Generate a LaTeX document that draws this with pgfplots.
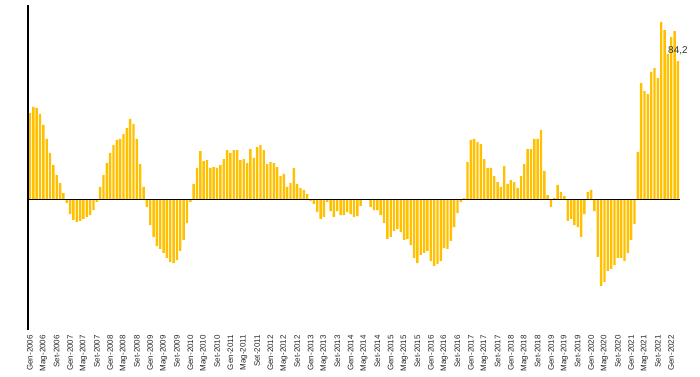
\documentclass[border=0pt]{standalone}
\usepackage{pgfplots}
\pgfplotsset{compat=1.18}
\usepackage{fontspec}
\setmainfont{Liberation Sans}
\definecolor{barcol}{RGB}{255,192,0}
\begin{document}
\begin{tikzpicture}
\begin{axis}[
 scale only axis, width=656.6bp, height=325bp,
 xmin=-0.6, xmax=196, ymin=-78.8, ymax=118.2,
 axis line style={draw=none},
 ytick=\empty,
 xtick={0,4,...,192},
 xticklabels={Gen-2006,Mag-2006,Set-2006,Gen-2007,Mag-2007,Set-2007,Gen-2008,Mag-2008,Set-2008,Gen-2009,Mag-2009,Set-2009,Gen-2010,Mag-2010,Set-2010,Gen-2011,Mag-2011,Set-2011,Gen-2012,Mag-2012,Set-2012,Gen-2013,Mag-2013,Set-2013,Gen-2014,Mag-2014,Set-2014,Gen-2015,Mag-2015,Set-2015,Gen-2016,Mag-2016,Set-2016,Gen-2017,Mag-2017,Set-2017,Gen-2018,Mag-2018,Set-2018,Gen-2019,Mag-2019,Set-2019,Gen-2020,Mag-2020,Set-2020,Gen-2021,Mag-2021,Set-2021,Gen-2022},
 major tick length=0pt,
 xticklabel style={rotate=90, anchor=east, inner sep=0pt, font=\fontsize{8}{9}\selectfont, text=black!85},
 xticklabel shift=5bp,
 clip=false,
]
\addplot[ybar, bar width=2.4bp, fill=barcol, draw=none] coordinates {
(0,52.7)(1,56.4)(2,55.8)(3,52.1)(4,45.5)(5,37.0)(6,28.5)(7,21.2)(8,15.2)(9,10.3)
(10,4.2)(11,-1.8)(12,-8.5)(13,-12.1)(14,-13.3)(15,-12.7)(16,-11.5)(17,-10.3)(18,-9.1)(19,-6.1)
(20,-1.2)(21,7.9)(22,15.2)(23,22.4)(24,28.5)(25,33.3)(26,36.4)(27,37.0)(28,40.0)(29,43.6)
(30,49.1)(31,46.1)(32,37.0)(33,21.8)(34,7.9)(35,-4.2)(36,-15.2)(37,-22.4)(38,-27.9)(39,-29.7)
(40,-32.1)(41,-35.1)(42,-37.6)(43,-38.2)(44,-36.4)(45,-30.9)(46,-24.2)(47,-13.9)(48,-1.2)(49,9.7)
(50,19.4)(51,29.7)(52,23.6)(53,24.2)(54,19.4)(55,20.0)(56,19.4)(57,21.2)(58,24.8)(59,30.3)
(60,28.5)(61,30.3)(62,30.3)(63,24.2)(64,24.8)(65,22.4)(66,30.9)(67,25.5)(68,32.1)(69,33.3)
(70,30.3)(71,21.8)(72,23.0)(73,22.4)(74,20.0)(75,14.5)(76,15.8)(77,7.9)(78,10.3)(79,19.4)
(80,9.7)(81,7.3)(82,6.1)(83,3.6)(84,-0.6)(85,-2.4)(86,-7.3)(87,-11.5)(88,-10.3)(89,-1.2)
(90,-6.7)(91,-10.3)(92,-6.7)(93,-9.1)(94,-9.1)(95,-7.3)(96,-8.5)(97,-10.3)(98,-9.7)(99,-3.6)
(100,0.0)(101,0.6)(102,-4.2)(103,-6.1)(104,-6.1)(105,-9.1)(106,-13.9)(107,-23.6)(108,-22.4)(109,-18.8)
(110,-17.6)(111,-19.4)(112,-24.2)(113,-23.6)(114,-27.3)(115,-35.1)(116,-38.2)(117,-33.3)(118,-32.1)(119,-30.9)
(120,-37.0)(121,-40.0)(122,-38.8)(123,-37.0)(124,-29.1)(125,-29.7)(126,-24.8)(127,-16.4)(128,-7.9)(129,-1.2)
(130,1.2)(131,23.0)(132,36.4)(133,37.0)(134,35.1)(135,33.9)(136,24.8)(137,19.4)(138,19.4)(139,14.5)
(140,10.9)(141,7.9)(142,20.6)(143,9.7)(144,12.1)(145,10.9)(146,7.3)(147,14.5)(148,21.8)(149,30.9)
(150,30.9)(151,37.0)(152,37.0)(153,42.4)(154,17.6)(155,3.0)(156,-4.2)(157,1.2)(158,9.1)(159,4.8)
(160,2.4)(161,-12.7)(162,-11.5)(163,-15.2)(164,-16.4)(165,-22.4)(166,-8.5)(167,4.8)(168,6.1)(169,-6.7)
(170,-34.5)(171,-52.1)(172,-49.7)(173,-43.0)(174,-41.8)(175,-39.4)(176,-35.1)(177,-35.1)(178,-37.0)(179,-32.1)
(180,-24.2)(181,-14.5)(182,29.1)(183,70.9)(184,66.1)(185,64.2)(186,77.6)(187,80.0)(188,73.9)(189,107.9)
(190,103.0)(191,88.5)(192,98.8)(193,102.4)(194,84.2)
};
\draw[black, line width=1bp] (axis cs:-0.6,0) -- (axis cs:194.6,0);
\draw[black, line width=1.3bp] (rel axis cs:0,0) -- (rel axis cs:0,1);
\node[anchor=south, font=\fontsize{10}{12}\selectfont, text=black!80, inner sep=0pt, yshift=6bp] at (axis cs:194,84.2) {84,2};
\end{axis}
\pgfresetboundingbox
\path (-28bp,-47bp) rectangle (672bp,330bp);
\end{tikzpicture}
\end{document}
